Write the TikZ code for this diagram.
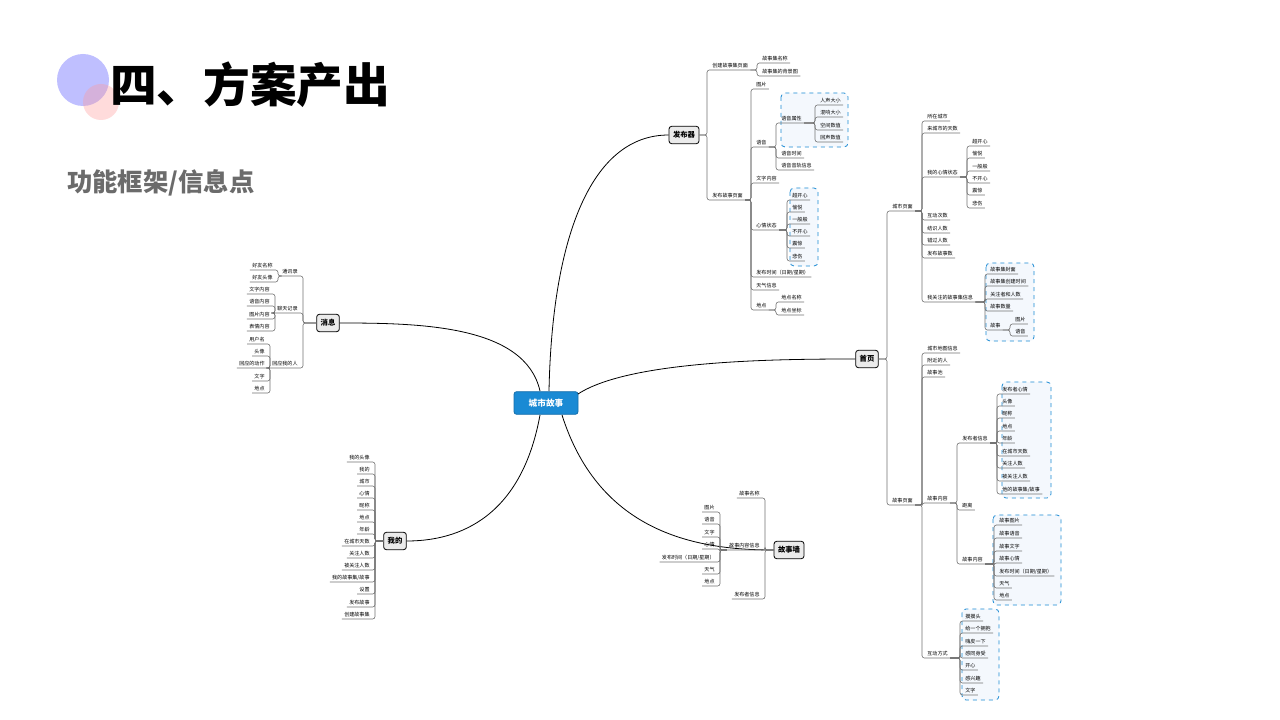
\documentclass[tikz,border=0pt]{standalone}
\usepackage{fontspec}
\setmainfont{Noto Sans CJK SC}
\usetikzlibrary{calc}
\definecolor{cblue}{HTML}{1A8AD4}
\definecolor{cfill}{HTML}{F4F8FD}
\tikzset{
 lf/.style={inner xsep=1.6pt,inner ysep=1.1pt,font=\fontsize{3.8}{4}\selectfont},
 conn/.style={draw=black!55,line width=0.45pt,rounded corners=1.8pt},
 mainc/.style={draw=black,line width=0.6pt},
 mbox/.style={draw=black,line width=0.6pt,fill=black!8,rounded corners=2pt,font=\fontsize{5.5}{6}\selectfont\bfseries,minimum height=13pt,inner xsep=3pt},
 dbox/.style={draw=cblue,dashed,line width=0.6pt,fill=cfill,rounded corners=3pt}
}
\newcommand\RN[4]{\node[lf,anchor=south west] (#1) at (#2,#3) {#4};}
\newcommand\LN[4]{\node[lf,anchor=south east] (#1) at (#2,#3) {#4};}
\newcommand\RC[2]{\draw[conn] (#1) -| ($(#2.south west)+(-3,0)$) -- (#2.south east);}
\newcommand\LC[2]{\draw[conn] (#1) -| ($(#2.south east)+(3,0)$) -- (#2.south west);}
\begin{document}
\begin{tikzpicture}[x=0.75pt,y=-0.75pt]
\useasboundingbox (0,0) rectangle (1280,720);
\fill[white] (0,0) rectangle (1280,720);
% title
\fill[blue!55!white,opacity=0.45] (83,80) circle (26);
\fill[pink!80!red,opacity=0.35] (101,102) circle (18);
\node[anchor=west,inner sep=0,font=\fontsize{35}{36}\selectfont\bfseries] (title) at (110,85) {四、方案产出};
\node[anchor=west,inner sep=0,text=black!58,font=\fontsize{19}{20}\selectfont\bfseries] (sub) at (67,183) {功能框架/信息点};
% dashed groups
\draw[dbox] (781,93) rectangle (848,147);
\draw[dbox] (790,188) rectangle (818,266);
\draw[dbox] (986,263) rectangle (1034,341);
\draw[dbox] (1002,382) rectangle (1051,498);
\draw[dbox] (993,515) rectangle (1061,605);
\draw[dbox] (962,609) rectangle (999,700);
% main nodes
\node[mbox,fill=cblue,text=white,draw=cblue!80!black,minimum width=48pt,minimum height=17pt,font=\fontsize{6.5}{7}\selectfont\bfseries] (ctr) at (546,403) {城市故事};
\node[mbox] (fbq) at (684,135) {发布器};
\node[mbox] (sy) at (867,359) {首页};
\node[mbox] (xx) at (328,323) {消息};
\node[mbox] (wd) at (395,541) {我的};
\node[mbox] (gsq) at (789,550) {故事墙};
\draw[mainc] (549,391) .. controls (552,240) and (590,135) .. (fbq.west);
\draw[mainc] (578,394) .. controls (630,360) and (780,359) .. (sy.west);
\draw[mainc] (540,391) .. controls (525,325) and (420,323) .. (xx.east);
\draw[mainc] (540,415) .. controls (520,525) and (450,541) .. (wd.east);
\draw[mainc] (562,415) .. controls (600,535) and (700,550) .. (gsq.west);
% 发布器
\RN{a1}{710}{70}{创建故事集页面}\RN{a2}{710}{200}{发布故事页面}
\RC{fbq.east}{a1}\RC{fbq.east}{a2}
\RN{a11}{760}{63}{故事集名称}\RN{a12}{760}{76}{故事集的背景图}
\RC{a1.south east}{a11}\RC{a1.south east}{a12}
\RN{b1}{754}{89}{图片}\RN{b2}{754}{147}{语音}\RN{b3}{754}{183}{文字内容}\RN{b4}{754}{230}{心情状态}
\RN{b5}{754}{277}{发布时间（日期/星期）}\RN{b6}{754}{290}{天气信息}\RN{b7}{754}{310}{地点}
\foreach \n in {b1,b2,b3,b4,b5,b6,b7}{\RC{a2.south east}{\n}}
\RN{c1}{779}{123}{语音属性}\RN{c2}{779}{158}{语音时间}\RN{c3}{779}{170}{语音音轨信息}
\foreach \n in {c1,c2,c3}{\RC{b2.south east}{\n}}
\RN{d1}{818}{105}{人声大小}\RN{d2}{818}{117}{混响大小}\RN{d3}{818}{130}{空间数值}\RN{d4}{818}{142}{回声数值}
\foreach \n in {d1,d2,d3,d4}{\RC{c1.south east}{\n}}
\RN{e1}{790}{200}{超开心}\RN{e2}{790}{212}{愉悦}\RN{e3}{790}{224}{一般般}\RN{e4}{790}{236}{不开心}\RN{e5}{790}{248}{震惊}\RN{e6}{790}{261}{悲伤}
\foreach \n in {e1,e2,e3,e4,e5,e6}{\RC{b4.south east}{\n}}
\RN{f1}{779}{302}{地点名称}\RN{f2}{779}{315}{地点坐标}
\RC{b7.south east}{f1}\RC{b7.south east}{f2}
% 首页
\RN{g1}{890}{211}{城市页面}\RN{g2}{890}{505}{故事页面}
\RC{sy.east}{g1}\RC{sy.east}{g2}
\RN{h1}{925}{121}{所在城市}\RN{h2}{925}{133}{来城市的天数}\RN{h3}{925}{177}{我的心情状态}\RN{h4}{925}{220}{互动次数}
\RN{h5}{925}{233}{结识人数}\RN{h6}{925}{245}{错过人数}\RN{h7}{925}{258}{发布故事数}\RN{h8}{925}{302}{我关注的故事集信息}
\foreach \n in {h1,h2,h3,h4,h5,h6,h7,h8}{\RC{g1.south east}{\n}}
\RN{i1}{970}{146}{超开心}\RN{i2}{970}{158}{愉悦}\RN{i3}{970}{171}{一般般}\RN{i4}{970}{183}{不开心}\RN{i5}{970}{195}{震惊}\RN{i6}{970}{208}{悲伤}
\foreach \n in {i1,i2,i3,i4,i5,i6}{\RC{h3.south east}{\n}}
\RN{j1}{988}{274}{故事集封面}\RN{j2}{988}{286}{故事集创建时间}\RN{j3}{988}{299}{关注者和人数}\RN{j4}{988}{311}{故事数量}\RN{j5}{988}{330}{故事}
\foreach \n in {j1,j2,j3,j4,j5}{\RC{h8.south east}{\n}}
\RN{k1}{1013}{324}{图片}\RN{k2}{1013}{336}{语音}
\RC{j5.south east}{k1}\RC{j5.south east}{k2}
\RN{l1}{925}{353}{城市地图信息}\RN{l2}{925}{365}{附近的人}\RN{l3}{925}{377}{故事池}\RN{l4}{925}{503}{故事内容}\RN{l5}{925}{658}{互动方式}
\foreach \n in {l1,l2,l3,l4,l5}{\RC{g2.south east}{\n}}
\RN{m1}{960}{443}{发布者信息}\RN{m2}{960}{510}{距离}\RN{m3}{960}{564}{故事内容}
\foreach \n in {m1,m2,m3}{\RC{l4.south east}{\n}}
\RN{n1}{1000}{394}{发布者心情}\RN{n2}{1000}{406}{头像}\RN{n3}{1000}{418}{昵称}\RN{n4}{1000}{431}{地点}\RN{n5}{1000}{443}{年龄}
\RN{n6}{1000}{456}{在城市天数}\RN{n7}{1000}{468}{关注人数}\RN{n8}{1000}{481}{被关注人数}\RN{n9}{1000}{494}{他的故事集/故事}
\foreach \n in {n1,n2,n3,n4,n5,n6,n7,n8,n9}{\RC{m1.south east}{\n}}
\RN{o1}{997}{525}{故事图片}\RN{o2}{997}{538}{故事语音}\RN{o3}{997}{551}{故事文字}\RN{o4}{997}{563}{故事心情}
\RN{o5}{997}{576}{发布时间（日期/星期）}\RN{o6}{997}{588}{天气}\RN{o7}{997}{600}{地点}
\foreach \n in {o1,o2,o3,o4,o5,o6,o7}{\RC{m3.south east}{\n}}
\RN{p1}{963}{621}{摸摸头}\RN{p2}{963}{633}{给一个拥抱}\RN{p3}{963}{646}{嗨皮一下}\RN{p4}{963}{658}{感同身受}
\RN{p5}{963}{670}{开心}\RN{p6}{963}{683}{感兴趣}\RN{p7}{963}{695}{文字}
\foreach \n in {p1,p2,p3,p4,p5,p6,p7}{\RC{l5.south east}{\n}}
% 消息
\LN{q1}{300}{276}{通讯录}\LN{q2}{300}{313}{聊天记录}\LN{q3}{300}{368}{回应我的人}
\LC{xx.west}{q1}\LC{xx.west}{q2}\LC{xx.west}{q3}
\LN{r1}{275}{270}{好友名称}\LN{r2}{275}{282}{好友头像}
\LC{q1.south west}{r1}\LC{q1.south west}{r2}
\LN{s1}{272}{294}{文字内容}\LN{s2}{272}{306}{语音内容}\LN{s3}{272}{319}{图片内容}\LN{s4}{272}{331}{表情内容}
\foreach \n in {s1,s2,s3,s4}{\LC{q2.south west}{\n}}
\LN{t1}{267}{344}{用户名}\LN{t2}{267}{356}{头像}\LN{t3}{267}{368}{回应的动作}\LN{t4}{267}{381}{文字}\LN{t5}{267}{393}{地点}
\foreach \n in {t1,t2,t3,t4,t5}{\LC{q3.south west}{\n}}
% 我的
\LN{u1}{372}{462}{我的头像}\LN{u2}{372}{474}{我的}\LN{u3}{372}{486}{城市}\LN{u4}{372}{498}{心情}
\LN{u5}{372}{510}{昵称}\LN{u6}{372}{522}{地点}\LN{u7}{372}{534}{年龄}\LN{u8}{372}{546}{在城市天数}
\LN{u9}{372}{558}{关注人数}\LN{u10}{372}{570}{被关注人数}\LN{u11}{372}{582}{我的故事集/故事}\LN{u12}{372}{594}{设置}
\LN{u13}{372}{607}{发布故事}\LN{u14}{372}{619}{创建故事集}
\foreach \n in {u1,u2,u3,u4,u5,u6,u7,u8,u9,u10,u11,u12,u13,u14}{\LC{wd.west}{\n}}
% 故事墙
\LN{v1}{762}{498}{故事名称}\LN{v2}{762}{550}{故事内容信息}\LN{v3}{762}{599}{发布者信息}
\LC{gsq.west}{v1}\LC{gsq.west}{v2}\LC{gsq.west}{v3}
\LN{w1}{717}{512}{图片}\LN{w2}{717}{524}{语音}\LN{w3}{717}{537}{文字}\LN{w4}{717}{549}{心情}
\LN{w5}{717}{562}{发布时间（日期/星期）}\LN{w6}{717}{574}{天气}\LN{w7}{717}{586}{地点}
\foreach \n in {w1,w2,w3,w4,w5,w6,w7}{\LC{v2.south west}{\n}}
\end{tikzpicture}
\end{document}
